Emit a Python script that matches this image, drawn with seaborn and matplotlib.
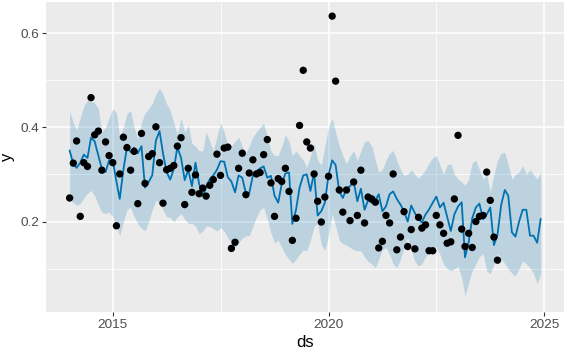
import numpy as np
import pandas as pd
import matplotlib
matplotlib.use("Agg")
import matplotlib.pyplot as plt
import matplotlib.dates as mdates
import seaborn as sns

# ---- data ----
obs_start = "2014-01-01"
fc_start = "2014-01-01"
y_obs = [0.250, 0.324, 0.371, 0.211, 0.325, 0.317, 0.463, 0.384, 0.392, 0.309, 0.369, 0.340,
         0.325, 0.191, 0.301, 0.379, 0.357, 0.309, 0.349, 0.238, 0.387, 0.281, 0.338, 0.344,
         0.401, 0.325, 0.239, 0.310, 0.313, 0.319, 0.360, 0.378, 0.236, 0.313, 0.262, 0.299,
         0.259, 0.271, 0.254, 0.277, 0.289, 0.343, 0.298, 0.356, 0.358, 0.143, 0.156, 0.313,
         0.345, 0.257, 0.303, 0.331, 0.301, 0.304, 0.342, 0.374, 0.282, 0.211, 0.291, 0.285,
         0.313, 0.264, 0.160, 0.207, 0.404, 0.521, 0.369, 0.356, 0.301, 0.243, 0.199, 0.252,
         0.296, 0.636, 0.498, 0.267, 0.220, 0.267, 0.202, 0.284, 0.213, 0.309, 0.197, 0.252,
         0.248, 0.241, 0.144, 0.158, 0.213, 0.197, 0.301, 0.140, 0.167, 0.221, 0.147, 0.183,
         0.142, 0.209, 0.186, 0.193, 0.138, 0.138, 0.213, 0.193, 0.175, 0.154, 0.157, 0.248,
         0.383, 0.184, 0.147, 0.175, 0.145, 0.200, 0.211, 0.213, 0.305, 0.245, 0.167, 0.118]

yhat = [0.351, 0.322, 0.314, 0.325, 0.342, 0.335, 0.378, 0.370, 0.340, 0.312, 0.305, 0.330,
        0.330, 0.285, 0.248, 0.310, 0.357, 0.348, 0.357, 0.345, 0.360, 0.272, 0.284, 0.298,
        0.372, 0.392, 0.345, 0.305, 0.289, 0.312, 0.358, 0.335, 0.288, 0.310, 0.275, 0.325,
        0.280, 0.255, 0.273, 0.290, 0.298, 0.310, 0.328, 0.327, 0.294, 0.285, 0.262, 0.298,
        0.293, 0.260, 0.260, 0.298, 0.307, 0.313, 0.317, 0.293, 0.297, 0.255, 0.240, 0.280,
        0.302, 0.304, 0.195, 0.225, 0.272, 0.298, 0.300, 0.265, 0.304, 0.213, 0.222, 0.240,
        0.298, 0.330, 0.320, 0.264, 0.250, 0.270, 0.275, 0.285, 0.243, 0.270, 0.225, 0.245,
        0.240, 0.245, 0.258, 0.222, 0.232, 0.258, 0.264, 0.248, 0.236, 0.222, 0.200, 0.234,
        0.218, 0.205, 0.198, 0.215, 0.226, 0.240, 0.253, 0.230, 0.240, 0.210, 0.180, 0.215,
        0.232, 0.241, 0.124, 0.156, 0.207, 0.230, 0.238, 0.205, 0.215, 0.230, 0.150, 0.172,
        0.235, 0.267, 0.255, 0.177, 0.168, 0.200, 0.225, 0.225, 0.170, 0.170, 0.155, 0.206]

yhat_upper = [0.434, 0.410, 0.394, 0.420, 0.445, 0.457, 0.455, 0.452, 0.440, 0.390, 0.400, 0.420,
              0.440, 0.430, 0.380, 0.400, 0.430, 0.435, 0.400, 0.375, 0.410, 0.430, 0.440, 0.450,
              0.470, 0.483, 0.470, 0.450, 0.436, 0.410, 0.385, 0.420, 0.390, 0.405, 0.366, 0.360,
              0.350, 0.350, 0.390, 0.370, 0.351, 0.380, 0.410, 0.390, 0.360, 0.360, 0.370, 0.379,
              0.360, 0.345, 0.360, 0.380, 0.390, 0.400, 0.409, 0.380, 0.350, 0.340, 0.340, 0.360,
              0.385, 0.370, 0.340, 0.350, 0.340, 0.330, 0.315, 0.340, 0.366, 0.330, 0.320, 0.360,
              0.400, 0.419, 0.390, 0.360, 0.340, 0.323, 0.340, 0.350, 0.330, 0.350, 0.370, 0.372,
              0.360, 0.330, 0.305, 0.310, 0.330, 0.345, 0.351, 0.330, 0.310, 0.298, 0.300, 0.310,
              0.300, 0.292, 0.300, 0.310, 0.325, 0.335, 0.340, 0.320, 0.300, 0.320, 0.323, 0.300,
              0.290, 0.284, 0.277, 0.290, 0.325, 0.330, 0.310, 0.290, 0.300, 0.262, 0.300, 0.330,
              0.345, 0.347, 0.320, 0.290, 0.300, 0.305, 0.319, 0.300, 0.310, 0.300, 0.290, 0.305]

yhat_lower = [0.250, 0.240, 0.235, 0.238, 0.250, 0.260, 0.266, 0.255, 0.235, 0.220, 0.217, 0.220,
              0.210, 0.190, 0.170, 0.200, 0.225, 0.230, 0.210, 0.195, 0.185, 0.181, 0.200, 0.225,
              0.245, 0.240, 0.225, 0.210, 0.209, 0.200, 0.210, 0.217, 0.205, 0.196, 0.196, 0.190,
              0.174, 0.180, 0.190, 0.190, 0.185, 0.180, 0.187, 0.180, 0.165, 0.155, 0.145, 0.155,
              0.165, 0.170, 0.170, 0.190, 0.210, 0.225, 0.230, 0.205, 0.175, 0.155, 0.160, 0.145,
              0.130, 0.120, 0.111, 0.120, 0.130, 0.140, 0.138, 0.160, 0.190, 0.196, 0.150, 0.138,
              0.170, 0.217, 0.190, 0.160, 0.153, 0.150, 0.145, 0.140, 0.138, 0.138, 0.125, 0.115,
              0.110, 0.102, 0.120, 0.140, 0.145, 0.130, 0.110, 0.102, 0.120, 0.145, 0.166, 0.140,
              0.115, 0.106, 0.110, 0.125, 0.135, 0.145, 0.145, 0.130, 0.110, 0.100, 0.096, 0.100,
              0.105, 0.080, 0.042, 0.070, 0.096, 0.110, 0.125, 0.132, 0.095, 0.089, 0.110, 0.132,
              0.120, 0.111, 0.100, 0.090, 0.085, 0.100, 0.117, 0.110, 0.102, 0.090, 0.068, 0.090]

x_ticks = ["2015", "2020", "2025"]
y_ticks = [0.2, 0.4, 0.6]

obs = pd.DataFrame({"ds": pd.date_range(obs_start, periods=len(y_obs), freq="MS"), "y": y_obs})
fc = pd.DataFrame({"ds": pd.date_range(fc_start, periods=len(yhat), freq="MS"),
                   "yhat": yhat, "lo": yhat_lower, "hi": yhat_upper})

# ---- style ----
sns.set_theme(style="darkgrid")
plt.rcParams["font.family"] = ["Liberation Sans", "DejaVu Sans"]

W, H = 567, 353
fig = plt.figure(figsize=(W / 100, H / 100), dpi=100)
fig.patch.set_facecolor("white")
L, R, T, B = 46, 564, 2, 312
ax = fig.add_axes([L / W, (H - B) / H, (R - L) / W, (B - T) / H])
ax.set_facecolor("#EBEBEB")

blue = "#0072B2"
ax.fill_between(fc["ds"], fc["lo"], fc["hi"], color=blue, alpha=0.2, linewidth=0, zorder=2)
sns.lineplot(data=fc, x="ds", y="yhat", color=blue, linewidth=1.3, ax=ax, zorder=3)
sns.scatterplot(data=obs, x="ds", y="y", color="black", s=28, edgecolor="none", ax=ax, zorder=4)

ax.set_xticks([pd.Timestamp(f"{t}-01-01") for t in x_ticks])
ax.set_xticklabels(x_ticks)
ax.set_xticks([pd.Timestamp("2017-07-02"), pd.Timestamp("2022-07-02")], minor=True)
ax.set_yticks(y_ticks)
ax.set_yticklabels([f"{v:.1f}" for v in y_ticks])
ax.set_yticks([0.1, 0.3, 0.5], minor=True)

ax.set_xlim(pd.Timestamp("2013-06-15"), pd.Timestamp("2025-06-16"))
ax.set_ylim(0.008, 0.666)

ax.grid(which="major", color="white", linewidth=1.1)
ax.grid(which="minor", color="white", linewidth=0.55)
ax.set_axisbelow(True)
for s in ax.spines.values():
    s.set_visible(False)

ax.tick_params(axis="both", which="major", length=3, width=0.8, color="#333333",
               labelcolor="#4D4D4D", labelsize=9.7, pad=2, bottom=True, left=True)
ax.tick_params(axis="both", which="minor", length=0)

ax.set_xlabel("ds", fontsize=12, color="black", labelpad=3)
ax.set_ylabel("y", fontsize=12, color="black", labelpad=4)

fig.savefig("out.png", dpi=100, facecolor="white")
